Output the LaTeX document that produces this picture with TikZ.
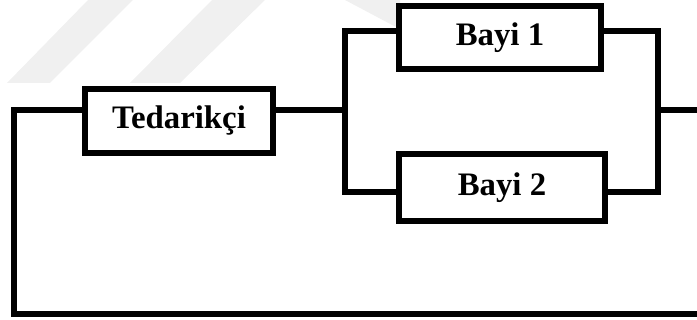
\documentclass[tikz,border=0pt]{standalone}
\usepackage{fontspec}
\setmainfont{Liberation Serif}
\begin{document}
\begin{tikzpicture}[x=0.03cm,y=-0.03cm,
  wire/.style={line width=5.1pt},
  unit/.style={draw,line width=5.1pt,fill=white,inner sep=0pt,
    font=\fontsize{28}{32}\selectfont\bfseries},
  stripe/.style={fill=black!6,draw=none}]
\useasboundingbox (0,0) rectangle (697,320);
% faint background stripes
\fill[stripe] (7,83) -- (50,83) -- (133,0) -- (88,0) -- cycle;
\fill[stripe] (130,83) -- (180,83) -- (265,0) -- (212,0) -- cycle;
\fill[stripe] (345,0) -- (400,0) -- (400,28) -- (394,26) -- cycle;
% junction points
\coordinate (jl) at (345,110);
\coordinate (jr) at (658,110);
\coordinate (out) at (697,110);
\coordinate (ret) at (697,314);
% units
\node[unit,minimum width=5.64cm,minimum height=1.92cm] (ted) at (179,121) {Tedarikçi};
\node[unit,minimum width=6.06cm,minimum height=1.89cm] (b1) at (500,37.5) {Bayi 1};
\node[unit,minimum width=6.18cm,minimum height=2.01cm] (b2) at (502,187.5) {Bayi 2};
% connections
\draw[wire] (ted.east |- jl) -- (jl);
\draw[wire] (b1.west |- 0,31) -| (jl) |- (b2.west |- 0,192);
\draw[wire] (b1.east |- 0,31) -| (jr) |- (b2.east |- 0,192);
\draw[wire] (jr) -- (out);
\draw[wire] (ted.west |- jl) -- (14,110) |- (ret);
\end{tikzpicture}
\end{document}
